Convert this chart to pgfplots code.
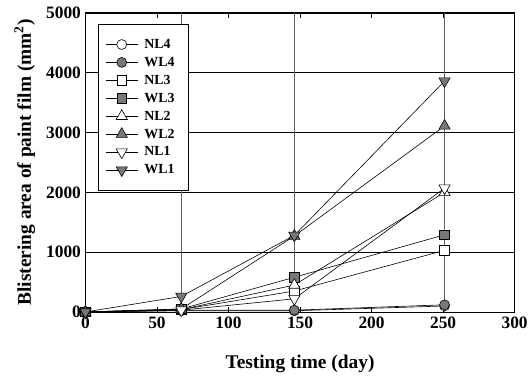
\documentclass[border=0pt]{standalone}
\usepackage{fontspec}
\setmainfont{Liberation Serif}
\usepackage{pgfplots}
\pgfplotsset{compat=1.18}
\definecolor{mfill}{RGB}{120,120,120}
\begin{document}
\begin{tikzpicture}
\begin{axis}[
  scale only axis, width=432pt, height=301pt, clip=false,
  xmin=0, xmax=300, ymin=0, ymax=5000,
  xtick={0,50,...,300}, ytick={0,1000,...,5000},
  tick align=inside, major tick length=5pt,
  tick style={black, line width=0.7pt},
  axis line style={line width=0.9pt},
  ymajorgrids, y grid style={black, line width=0.5pt},
  extra x ticks={67,146,251}, extra x tick labels={},
  extra x tick style={xmajorgrids=true, major tick length=0pt, grid style={black!62, line width=0.9pt}},
  /pgf/number format/1000 sep={},
  /pgf/number format/assume math mode=true,
  ticklabel style={font=\fontsize{17.5}{19}\selectfont\bfseries},
  xticklabel style={yshift=-1pt},
  yticklabel style={xshift=-1pt},
  xlabel={Testing time (day)},
  ylabel={Blistering area of paint film (mm\textsuperscript{2})},
  label style={font=\fontsize{19.5}{21}\selectfont\bfseries},
  xlabel style={at={([yshift=-52pt]rel axis cs:0.5,0)}, anchor=center},
  ylabel style={at={([xshift=-61pt]rel axis cs:0,0.5)}, anchor=center},
  legend style={at={(rel axis cs:0.03,0.963)}, anchor=north west, draw=black, line width=0.6pt,
    font=\fontsize{14}{15}\selectfont\bfseries, row sep=3.3pt, inner xsep=7pt, inner ysep=13pt,
    nodes={inner xsep=6.5pt}},
  legend cell align=left,
  legend image code/.code={\draw[mark repeat=2,mark phase=2,#1] plot coordinates {(0pt,0pt)(16pt,0pt)(32pt,0pt)};},
  every axis plot/.append style={black, line width=0.6pt, mark options={solid, line width=0.6pt}},
]
\addplot[mark=*, mark size=5, mark options={fill=white}] coordinates {(0,0)(67,20)(146,20)(251,100)};
\addlegendentry{NL4}
\addplot[mark=*, mark size=5, mark options={fill=mfill}] coordinates {(0,0)(67,30)(146,30)(251,120)};
\addlegendentry{WL4}
\addplot[mark=square*, mark size=4.8, mark options={fill=white}] coordinates {(0,0)(67,40)(146,350)(251,1030)};
\addlegendentry{NL3}
\addplot[mark=square*, mark size=4.8, mark options={fill=mfill}] coordinates {(0,0)(67,50)(146,580)(251,1290)};
\addlegendentry{WL3}
\addplot[mark=triangle*, mark size=6.5, mark options={fill=white}] coordinates {(0,0)(67,40)(146,450)(251,2000)};
\addlegendentry{NL2}
\addplot[mark=triangle*, mark size=6.5, mark options={fill=mfill}] coordinates {(0,0)(67,50)(146,1270)(251,3110)};
\addlegendentry{WL2}
\addplot[mark=triangle*, mark size=6.5, mark options={fill=white, rotate=180}] coordinates {(0,0)(67,30)(146,220)(251,2070)};
\addlegendentry{NL1}
\addplot[mark=triangle*, mark size=6.5, mark options={fill=mfill, rotate=180}] coordinates {(0,0)(67,260)(146,1280)(251,3860)};
\addlegendentry{WL1}
\path (rel axis cs:0,0) ++(-86pt,-65pt) (rel axis cs:1,1) ++(13pt,13pt);
\end{axis}
\end{tikzpicture}
\end{document}
